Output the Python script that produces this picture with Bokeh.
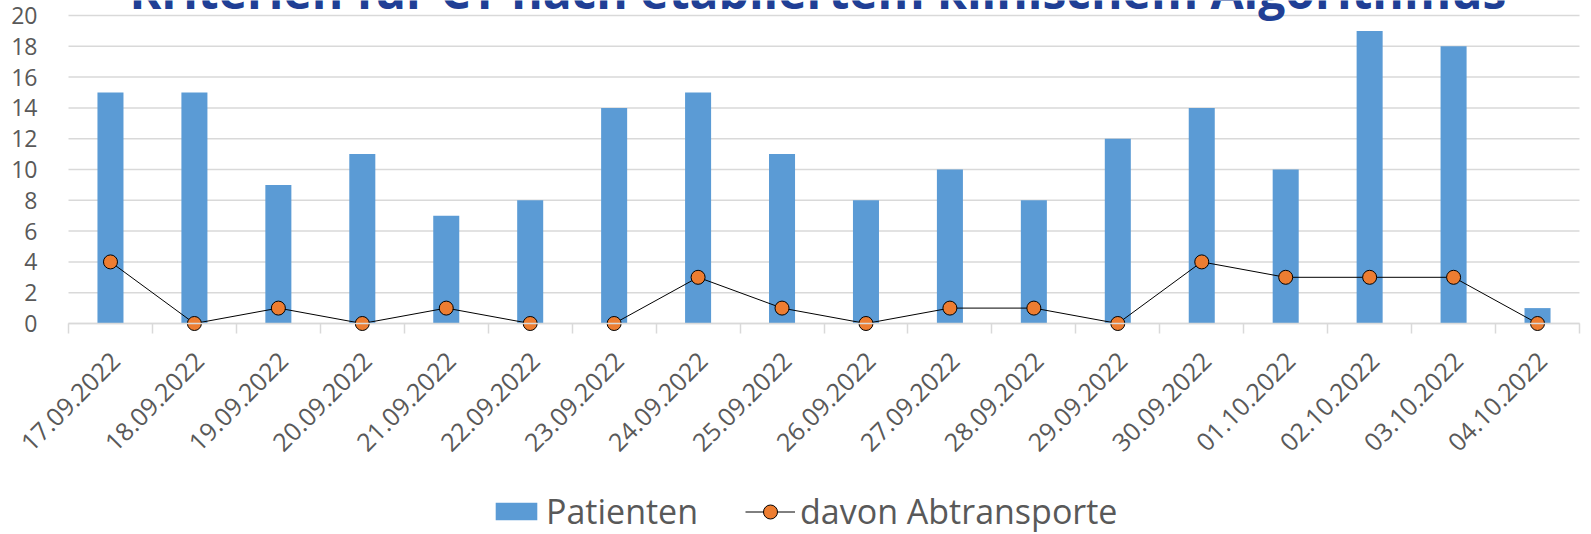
import math
from bokeh.plotting import figure
from bokeh.models import (ColumnDataSource, Range1d, LinearAxis, FixedTicker,
                          Legend, LegendItem)
from bokeh.core.properties import value
from bokeh.embed import file_html
from bokeh.resources import INLINE

# ---- data ----
dates = ["17.09.2022", "18.09.2022", "19.09.2022", "20.09.2022", "21.09.2022",
         "22.09.2022", "23.09.2022", "24.09.2022", "25.09.2022", "26.09.2022",
         "27.09.2022", "28.09.2022", "29.09.2022", "30.09.2022", "01.10.2022",
         "02.10.2022", "03.10.2022", "04.10.2022"]
patienten = [15, 15, 9, 11, 7, 8, 14, 15, 11, 8, 10, 8, 12, 14, 10, 19, 18, 1]
abtransporte = [4, 0, 1, 0, 1, 0, 0, 3, 1, 0, 1, 1, 0, 4, 3, 3, 3, 0]
y_ticks = [0, 2, 4, 6, 8, 10, 12, 14, 16, 18, 20]
series_names = ["Patienten", "davon Abtransporte"]
title_text = "Kriterien für CT nach etabliertem klinischem Algorithmus"

FONT = "Open Sans"
GRID = "#D9D9D9"
TXT = "#595959"

# ---- layout (pixels) ----
W, H = 1591, 534
LEFT, RIGHT = 68, 12                   # plot area inside the canvas
Y_TOP_PX, Y_ZERO_PX = 15, 323          # where the 20- and 0-lines sit
n = len(dates)
px_x = (W - LEFT - RIGHT) / n
px_y = (Y_ZERO_PX - Y_TOP_PX) / y_ticks[-1]
x_range = Range1d(-LEFT / px_x, n + RIGHT / px_x)
y_range = Range1d(-(H - Y_ZERO_PX) / px_y, y_ticks[-1] + Y_TOP_PX / px_y)

xpos = [i + 0.5 for i in range(n)]
src = ColumnDataSource(dict(x=xpos, date=dates, pat=patienten, abt=abtransporte))
gsrc = ColumnDataSource(dict(y=y_ticks, x0=[0] * len(y_ticks), x1=[n] * len(y_ticks)))

p = figure(width=W, height=H, output_backend="svg", toolbar_location=None,
           x_range=x_range, y_range=y_range,
           x_axis_type=None, y_axis_type=None,
           min_border_left=0, min_border_right=0, min_border_top=0,
           min_border_bottom=0)
p.outline_line_color = None
p.background_fill_color = "white"
p.border_fill_color = "white"

# horizontal gridlines across the plot area only
p.segment(x0="x0", x1="x1", y0="y", y1="y", source=gsrc,
          line_color=GRID, line_width=1.5)

# y axis (labels only), pinned to x = 0
yaxis = LinearAxis(fixed_location=0, ticker=FixedTicker(ticks=y_ticks),
                   axis_line_color=None, major_tick_line_color=None,
                   minor_tick_line_color=None, major_label_standoff=25,
                   major_label_text_font=FONT, major_label_text_font_size="23px",
                   major_label_text_color=TXT)
p.add_layout(yaxis, "left")

# x axis at y = 0: axis line + tick marks between categories
xaxis = LinearAxis(fixed_location=0, bounds=(0, n),
                   ticker=FixedTicker(ticks=[], minor_ticks=list(range(n + 1))),
                   major_tick_line_color=None, major_tick_out=0, major_tick_in=0,
                   minor_tick_out=10, minor_tick_in=0,
                   minor_tick_line_color=GRID, minor_tick_line_width=1.5,
                   axis_line_color=GRID, axis_line_width=1.5)
p.add_layout(xaxis, "below")

# category labels, rotated 45°, ending under each category centre
p.text(x="x", y=0, text="date", source=src, angle=math.pi / 4,
       text_align="right", text_baseline="middle", x_offset=5, y_offset=33,
       text_font=value(FONT), text_font_size="25px", text_color=TXT)

bars = p.vbar(x="x", top="pat", bottom=0, width=0.31, source=src,
              fill_color="#5B9BD5", line_color=None)
line = p.line(x="x", y="abt", source=src, line_color="black", line_width=1)
pts = p.scatter(x="x", y="abt", source=src, size=14, fill_color="#ED7D31",
                line_color="black", line_width=1)

leg1 = Legend(items=[LegendItem(label=series_names[0], renderers=[bars])],
              location=(LEFT + 422, 0), glyph_width=52, glyph_height=22,
              label_standoff=4, padding=0, margin=0, spacing=0,
              border_line_color=None, background_fill_alpha=0,
              label_text_font=FONT, label_text_font_size="34px",
              label_text_color=TXT)
leg2 = Legend(items=[LegendItem(label=series_names[1], renderers=[line, pts])],
              location=(LEFT + 677, 0), glyph_width=50, glyph_height=35,
              label_standoff=5, padding=0, margin=0, spacing=0,
              border_line_color=None, background_fill_alpha=0,
              label_text_font=FONT, label_text_font_size="34px",
              label_text_color=TXT)
p.add_layout(leg1, "center")
p.add_layout(leg2, "center")

# chart title (cut at the top edge, as in the original)
p.text(x=[n / 2], y=[y_ticks[-1]], text=[title_text], x_offset=-6, y_offset=-25,
       text_align="center", text_baseline="alphabetic",
       text_font=value(FONT), text_font_style="bold", text_font_size="48px",
       text_color="#203F95")

open("out.html", "w").write(file_html(p, INLINE))
